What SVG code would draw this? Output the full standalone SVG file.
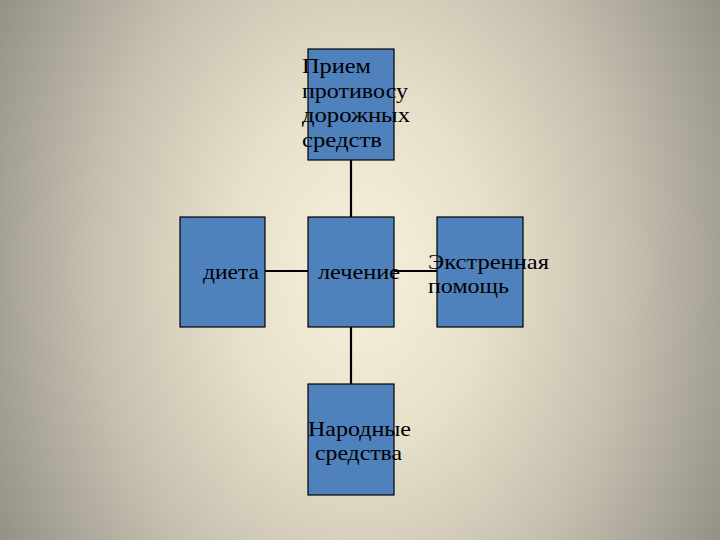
<svg xmlns="http://www.w3.org/2000/svg" width="720" height="540" viewBox="0 0 720 540">
<defs>
<radialGradient id="bg" gradientUnits="userSpaceOnUse" cx="360" cy="270" r="440" gradientTransform="translate(360 270) scale(1 1.35) translate(-360 -270)">
<stop offset="0" stop-color="#f8f1dc"/>
<stop offset="0.3" stop-color="#e6dfca"/>
<stop offset="0.6" stop-color="#c6c0af"/>
<stop offset="0.85" stop-color="#a19d92"/>
<stop offset="1" stop-color="#8c887e"/>
</radialGradient>
<style>
.box{fill:#4f81bd;stroke:#000;stroke-width:1.2}
.ln{stroke:#000;stroke-width:2.2;fill:none}
text{font-family:"Liberation Serif","Times New Roman",serif;font-size:21.5px;fill:#000}
</style>
</defs>
<rect width="720" height="540" fill="url(#bg)"/>
<g id="connectors">
<line class="ln" x1="351" y1="160" x2="351" y2="217"/>
<line class="ln" x1="351" y1="327" x2="351" y2="384"/>
<line class="ln" x1="265" y1="271" x2="308" y2="271"/>
<line class="ln" x1="394" y1="271" x2="437" y2="271"/>
</g>
<g id="node-top">
<rect class="box" x="308" y="49" width="86" height="111"/>
<text x="302" y="73" textLength="69" lengthAdjust="spacingAndGlyphs">Прием</text>
<text x="302" y="98" textLength="106" lengthAdjust="spacingAndGlyphs">противосу</text>
<text x="302" y="122" textLength="108" lengthAdjust="spacingAndGlyphs">дорожных</text>
<text x="302" y="147" textLength="80" lengthAdjust="spacingAndGlyphs">средств</text>
</g>
<g id="node-left">
<rect class="box" x="180" y="217" width="85" height="110"/>
<text x="203" y="279" textLength="56" lengthAdjust="spacingAndGlyphs">диета</text>
</g>
<g id="node-center">
<rect class="box" x="308" y="217" width="86" height="110"/>
<text x="318" y="279" textLength="82" lengthAdjust="spacingAndGlyphs">лечение</text>
</g>
<g id="node-right">
<rect class="box" x="437" y="217" width="86" height="110"/>
<text x="428" y="269" textLength="121" lengthAdjust="spacingAndGlyphs">Экстренная</text>
<text x="428" y="293" textLength="81" lengthAdjust="spacingAndGlyphs">помощь</text>
</g>
<g id="node-bottom">
<rect class="box" x="308" y="384" width="86" height="111"/>
<text x="308" y="436" textLength="103" lengthAdjust="spacingAndGlyphs">Народные</text>
<text x="315" y="460" textLength="87" lengthAdjust="spacingAndGlyphs">средства</text>
</g>
</svg>
